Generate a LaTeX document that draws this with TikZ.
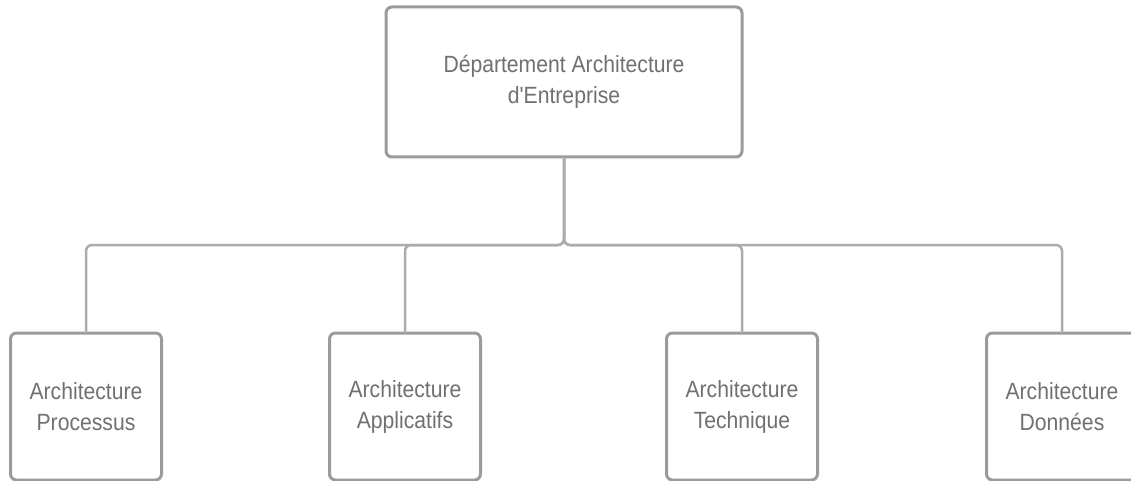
\documentclass[tikz,border=0pt]{standalone}
\usepackage{fontspec}
\setmainfont{Liberation Sans}[FakeStretch=0.9,Ligatures=TeXOff]
\definecolor{boxline}{RGB}{155,155,155}
\definecolor{conline}{RGB}{172,172,172}
\definecolor{txt}{RGB}{112,112,112}
\tikzset{
  orgbox/.style={draw=boxline, line width=3pt, rounded corners=6pt, fill=white,
    inner sep=0pt, outer sep=0pt, align=center, text=txt,
    font=\fontsize{23.5pt}{31pt}\selectfont},
  conn/.style={draw=conline, line width=2.5pt, rounded corners=6pt}
}
\begin{document}
\begin{tikzpicture}[x=1pt,y=1pt]
\useasboundingbox (0,0) rectangle (1131,-481);
\clip (0,0) rectangle (1131,-481);
\node[orgbox, minimum width=356pt, minimum height=150pt] (top) at (564,-82) {Département Architecture\\d'Entreprise};
\node[orgbox, minimum width=151pt, minimum height=147pt] (b1) at (86,-406.5) {Architecture\\Processus};
\node[orgbox, minimum width=151pt, minimum height=147pt] (b2) at (405,-406.5) {Architecture\\Applicatifs};
\node[orgbox, minimum width=151pt, minimum height=147pt] (b3) at (742,-406.5) {Architecture\\Technique};
\node[orgbox, minimum width=151pt, minimum height=147pt] (b4) at (1062,-406.5) {Architecture\\Données};
\coordinate (j) at (564,-245);
\foreach \b in {b1,b2,b3,b4}{
  \draw[conn] (top.south) -- (j) -| (\b.north);
}
\end{tikzpicture}
\end{document}
